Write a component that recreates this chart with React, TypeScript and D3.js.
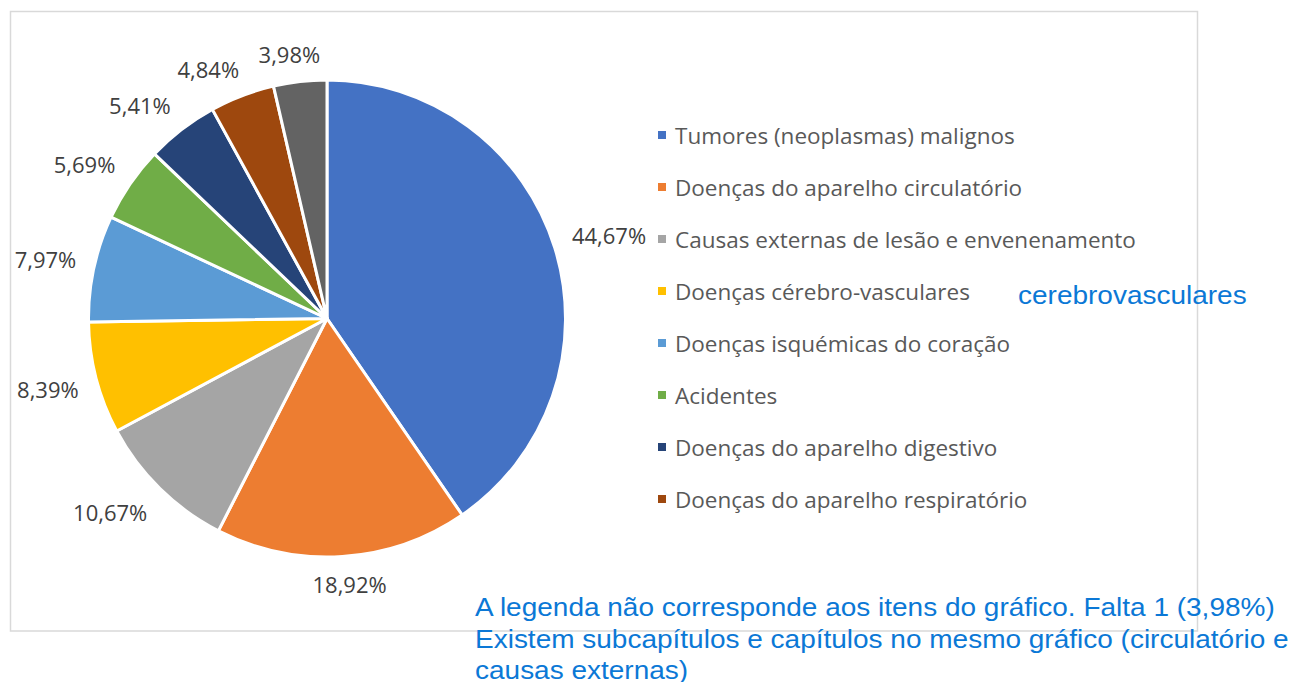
import React, { useEffect, useRef } from "react";
import * as d3 from "d3";

const categories = [
  "Tumores (neoplasmas) malignos",
  "Doenças do aparelho circulatório",
  "Causas externas de lesão e envenenamento",
  "Doenças cérebro-vasculares",
  "Doenças isquémicas do coração",
  "Acidentes",
  "Doenças do aparelho digestivo",
  "Doenças do aparelho respiratório",
  "",
];
const values = [44.67, 18.92, 10.67, 8.39, 7.97, 5.69, 5.41, 4.84, 3.98];
const labels = ["44,67%", "18,92%", "10,67%", "8,39%", "7,97%", "5,69%", "5,41%", "4,84%", "3,98%"];
const colors = ["#4472C4", "#ED7D31", "#A5A5A5", "#FFC000", "#5B9BD5", "#70AD47", "#264478", "#9E480E", "#636363"];
const legendCount = 8;
const annotationSide = "cerebrovasculares";
const annotationLines = [
  "A legenda não corresponde aos itens do gráfico. Falta 1 (3,98%)",
  "Existem subcapítulos e capítulos no mesmo gráfico (circulatório e",
  "causas externas)",
];

const W = 1292;
const H = 682;

export default function App() {
  const ref = useRef<SVGSVGElement | null>(null);

  useEffect(() => {
    const svg = d3.select(ref.current);
    svg.selectAll("*").remove();

    // chart frame
    svg.append("rect")
      .attr("x", 10.5).attr("y", 11.5)
      .attr("width", 1187).attr("height", 619.5)
      .attr("fill", "#fff").attr("stroke", "#d9d9d9").attr("stroke-width", 1.5);

    const cx = 327, cy = 318.5, R = 238.5;
    const g = svg.append("g").attr("transform", `translate(${cx},${cy})`);

    const pie = d3.pie<number>().sort(null).value((d) => d);
    const arcs = pie(values);
    const arc = d3.arc<d3.PieArcDatum<number>>().innerRadius(0).outerRadius(R);

    g.selectAll("path.slice").data(arcs).enter().append("path")
      .attr("class", "slice")
      .attr("d", arc as any)
      .attr("fill", (_, i) => colors[i])
      .attr("stroke", "#fff").attr("stroke-width", 3).attr("stroke-linejoin", "round");

    const font = "'Open Sans', 'Noto Sans', sans-serif";
    const labelSize = 22;
    const gap = 18;
    const f = (u: number) => Math.min(1, 2.5 * Math.abs(u)) * Math.sign(u);
    arcs.forEach((a, i) => {
      const mid = (a.startAngle + a.endAngle) / 2;
      const dx = Math.sin(mid), dy = -Math.cos(mid);
      const t = g.append("text")
        .attr("font-family", font).attr("font-size", labelSize)
        .attr("fill", "#404040").attr("text-anchor", "middle")
        .attr("dominant-baseline", "central")
        .text(labels[i]);
      const bb = (t.node() as SVGTextElement).getBBox();
      const hw = bb.width / 2, hh = 10;
      const px = dx * (R + gap) + f(dx) * hw;
      const py = dy * (R + gap) + f(dy) * hh;
      t.attr("x", px).attr("y", py);
    });

    // legend
    const lx = 658, ly0 = 135, lstep = 52;
    const lg = svg.append("g");
    for (let i = 0; i < legendCount; i++) {
      const y = ly0 + i * lstep;
      lg.append("rect").attr("x", lx).attr("y", y - 4).attr("width", 8).attr("height", 8).attr("fill", colors[i]);
      lg.append("text").attr("x", lx + 17).attr("y", y)
        .attr("dominant-baseline", "central")
        .attr("font-family", font).attr("font-size", 22.5).attr("fill", "#595959")
        .text(categories[i]);
    }

    // annotations
    const blue = "#0B78D6";
    const afont = "'Liberation Sans', Arial, sans-serif";
    svg.append("text")
      .attr("transform", `translate(1018,304) scale(1.12,1)`)
      .attr("font-family", afont).attr("font-size", 25).attr("fill", blue)
      .text(annotationSide);
    annotationLines.forEach((ln, i) => {
      svg.append("text")
        .attr("transform", `translate(475,${616 + i * 31.5}) scale(1.12,1)`)
        .attr("font-family", afont).attr("font-size", 25).attr("fill", blue)
        .text(ln);
    });
  }, []);

  return (
    <svg ref={ref} width={W} height={H} style={{ position: "absolute", left: 0, top: 0, background: "#fff" }} />
  );
}
